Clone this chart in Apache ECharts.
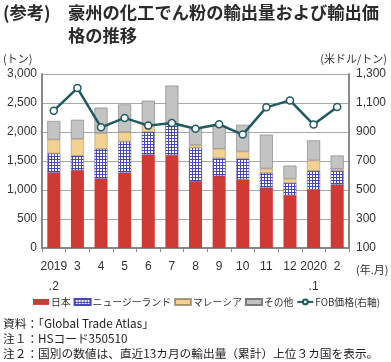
<!DOCTYPE html>
<html><head><meta charset="utf-8">
<script src="https://cdn.jsdelivr.net/npm/echarts@6/dist/echarts.min.js"></script>
<style>html,body{margin:0;padding:0;background:#fff}#c{width:391px;height:362px}</style>
</head><body><div id="c"></div>
<script>
const categories = ['2019\n.2','3','4','5','6','7','8','9','10','11','12','2020\n.1','2'];
const japan      = [1300,1340,1195,1295,1605,1600,1150,1240,1180,1035, 910,1005,1090];
const newZealand = [ 330, 250, 515, 540, 395, 540, 580, 310, 360, 260, 210, 325, 240];
const malaysia   = [ 240, 290, 270, 165, 115,  30,  45, 160, 125,  75,  75, 180,  35];
const others     = [ 320, 330, 440, 475, 425, 630, 280, 400, 460, 585, 225, 345, 230];
const fobPrice   = [1047,1203, 932, 997, 944, 962, 923, 953, 882,1070,1118, 951,1072];
const leftTicks = {min:0, max:3000, interval:500};
const rightTicks = {min:100, max:1300, interval:200};

const pc = document.createElement('canvas');
pc.width = 3; pc.height = 3;
const g = pc.getContext('2d');
g.fillStyle = '#4848b4'; g.fillRect(0,0,3,3);
g.fillStyle = '#ffffff'; g.fillRect(1,1,2,2);

const font = '"Liberation Sans","Noto Sans CJK JP",sans-serif';
const jfont = '"Noto Sans CJK JP","Liberation Sans",sans-serif';
const chart = echarts.init(document.getElementById('c'), null, {renderer:'canvas'});
const barW = 13;
chart.setOption({
  animation:false,
  textStyle:{fontFamily:font},
  graphic:[
    {type:'text', left:3, top:4, style:{text:'(参考)', font:'bold 17.3px '+jfont, fill:'#2a2a2a'}},
    {type:'text', left:68, top:4, style:{text:'豪州の化工でん粉の輸出量および輸出価', font:'bold 17.3px '+jfont, fill:'#2a2a2a'}},
    {type:'text', left:68, top:27, style:{text:'格の推移', font:'bold 17.3px '+jfont, fill:'#2a2a2a'}},
    {type:'text', left:3, top:53, style:{text:'(トン)', font:'11px '+jfont, fill:'#333'}},
    {type:'text', right:4, top:53, style:{text:'(米ドル/トン)', font:'11px '+jfont, fill:'#333'}},
    {type:'text', left:356, top:264, style:{text:'(年.月)', font:'11px '+jfont, fill:'#333'}},
    {type:'text', left:3, top:318, style:{text:'資料：「Global Trade Atlas」', font:'11.7px '+jfont, fill:'#222'}},
    {type:'text', left:3, top:333, style:{text:'注１：HSコード350510', font:'11.7px '+jfont, fill:'#222'}},
    {type:'text', left:3, top:348, style:{text:'注２：国別の数値は、直近13カ月の輸出量（累計）上位３カ国を表示。', font:'11.7px '+jfont, fill:'#222'}}
  ],
  legend:{
    top:297, left:33, width:380, padding:0, itemWidth:16, itemHeight:6, itemGap:3,
    textStyle:{fontFamily:jfont, fontSize:9.8, color:'#333', padding:[0,0,0,-3]},
    data:[
      {name:'日本', icon:'rect'},
      {name:'ニュージーランド', icon:'rect'},
      {name:'マレーシア', icon:'rect'},
      {name:'その他', icon:'rect'},
      {name:'FOB価格(右軸)'}
    ]
  },
  grid:{left:42, right:42, top:74, bottom:114},
  xAxis:{
    type:'category', data:categories,
    axisLine:{lineStyle:{color:'#888', width:2}},
    axisTick:{show:true, length:4, lineStyle:{color:'#888'}},
    axisLabel:{color:'#333', fontSize:12, lineHeight:20, margin:9, interval:0}
  },
  yAxis:[
    {type:'value', min:leftTicks.min, max:leftTicks.max, interval:leftTicks.interval,
     axisLine:{show:true, lineStyle:{color:'#888', width:2}},
     axisLabel:{color:'#333', fontSize:12, margin:5, formatter:v=>v.toLocaleString('en-US')},
     splitLine:{lineStyle:{color:'#a8a8a8', width:1}}},
    {type:'value', min:rightTicks.min, max:rightTicks.max, interval:rightTicks.interval,
     axisLine:{show:true, lineStyle:{color:'#888', width:2}},
     axisLabel:{color:'#333', fontSize:12, margin:7, formatter:v=>v.toLocaleString('en-US')},
     splitLine:{show:false}}
  ],
  series:[
    {name:'日本', type:'bar', stack:'t', barWidth:barW, data:japan,
     itemStyle:{color:'#cf3b34'}},
    {name:'ニュージーランド', type:'bar', stack:'t', barWidth:barW, data:newZealand,
     itemStyle:{color:{image:pc, repeat:'repeat'}, borderColor:'#4848b4', borderWidth:0.5}},
    {name:'マレーシア', type:'bar', stack:'t', barWidth:barW, data:malaysia,
     itemStyle:{color:'#f3d193', borderColor:'rgba(90,70,40,0.5)', borderWidth:0.6}},
    {name:'その他', type:'bar', stack:'t', barWidth:barW, data:others,
     itemStyle:{color:'#c3c3c3', borderColor:'#7a7a7a', borderWidth:0.6}},
    {name:'FOB価格(右軸)', type:'line', yAxisIndex:1, data:fobPrice,
     symbol:'circle', symbolSize:7,
     lineStyle:{color:'#1f5a60', width:2.5},
     itemStyle:{color:'#ffffff', borderColor:'#1f5a60', borderWidth:1.5}}
  ]
});
</script></body></html>
